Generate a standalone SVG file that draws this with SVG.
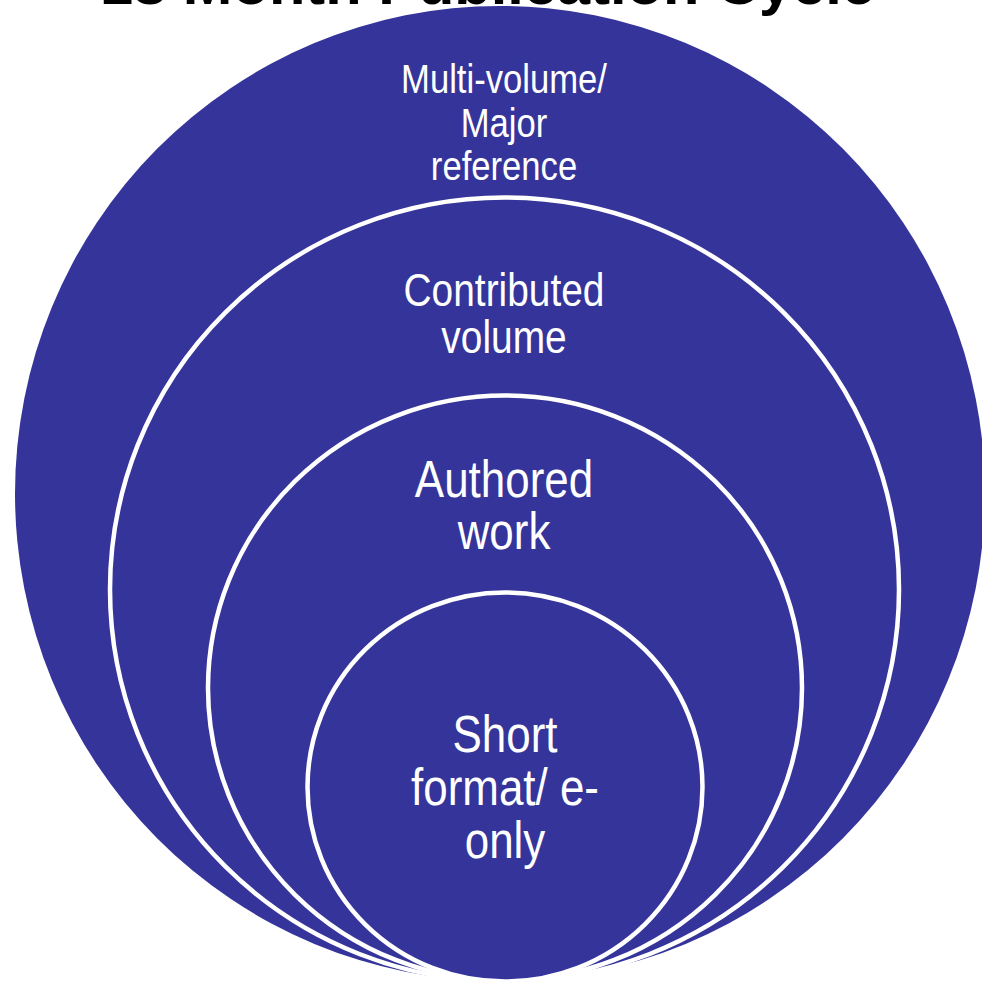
<svg xmlns="http://www.w3.org/2000/svg" width="982" height="981" viewBox="0 0 982 981">
<style>
.ring{fill:#35349a;stroke:#ffffff;stroke-width:4.5}
.lbl{fill:#ffffff;font-family:"Liberation Sans",Arial,sans-serif;text-anchor:middle}
.title{fill:#000000;font-family:"Liberation Sans",Arial,sans-serif;font-weight:bold;font-size:58px}
</style>
<rect width="982" height="981" fill="#ffffff"/>
<text class="title" x="100" y="4" textLength="775" lengthAdjust="spacingAndGlyphs">18 Month Publication Cycle</text>
<g id="node-multivolume">
<ellipse cx="500" cy="493.5" rx="485" ry="487.5" fill="#35349a"/>
<g transform="translate(504,0) scale(0.845,1)">
<text class="lbl" font-size="41" x="0" y="93">Multi-volume/</text>
<text class="lbl" font-size="41" x="0" y="137">Major</text>
<text class="lbl" font-size="41" x="0" y="180">reference</text>
</g>
</g>
<g id="node-contributed">
<ellipse class="ring" cx="504.5" cy="589.5" rx="394.5" ry="392"/>
<g transform="translate(504,0) scale(0.845,1)">
<text class="lbl" font-size="46" x="0" y="306">Contributed</text>
<text class="lbl" font-size="46" x="0" y="353">volume</text>
</g>
</g>
<g id="node-authored">
<ellipse class="ring" cx="505" cy="688" rx="297" ry="292.5"/>
<g transform="translate(504,0) scale(0.845,1)">
<text class="lbl" font-size="52" x="0" y="497">Authored</text>
<text class="lbl" font-size="52" x="0" y="549">work</text>
</g>
</g>
<g id="node-short">
<ellipse class="ring" cx="505" cy="787" rx="197.5" ry="194.5"/>
<g transform="translate(505,0) scale(0.845,1)">
<text class="lbl" font-size="52" x="0" y="752">Short</text>
<text class="lbl" font-size="52" x="0" y="805">format/ e-</text>
<text class="lbl" font-size="52" x="0" y="858">only</text>
</g>
</g>
<g id="connectors"></g>
</svg>
